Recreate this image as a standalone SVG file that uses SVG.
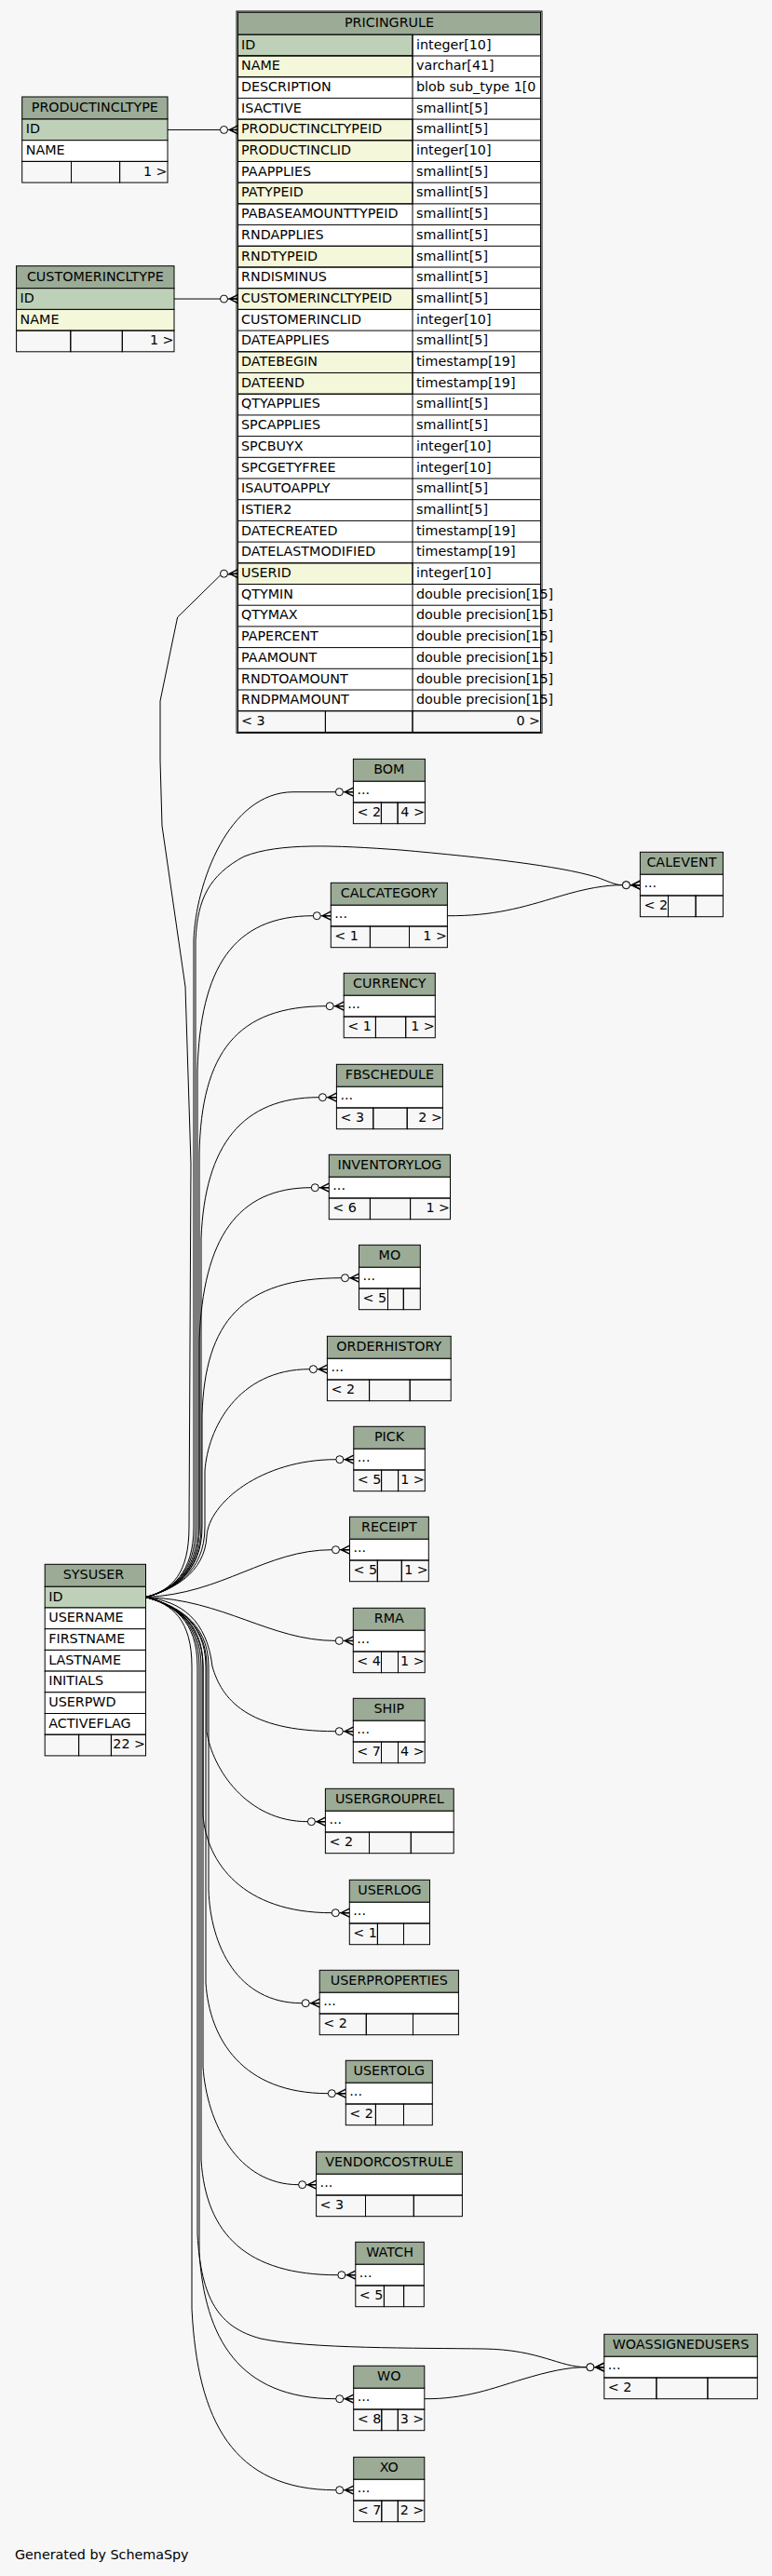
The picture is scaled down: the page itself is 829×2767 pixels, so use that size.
<svg xmlns="http://www.w3.org/2000/svg" width="829" height="2767" viewBox="0 0 829 2767">
<defs>
<style>
text{font-family:"DejaVu Sans","Liberation Sans",sans-serif;font-size:14.3px;fill:#000}
.c{text-anchor:middle}
.r{text-anchor:end}
rect{stroke:#000;stroke-width:1}
.bg{fill:#f7f7f7;stroke:none}
.h{fill:#9bab96}
.w{fill:#fff}
.n{fill:none}
.p{fill:#bed1b8}
.i{fill:#f4f7da}
.ln{fill:none;stroke:#000;stroke-width:1}
.e{fill:none;stroke:#000;stroke-width:1;marker-end:url(#crow)}
</style>
<marker id="crow" markerUnits="userSpaceOnUse" markerWidth="26" markerHeight="14" refX="21" refY="7" viewBox="0 0 26 14" orient="0" overflow="visible">
<circle cx="6" cy="7" r="4" fill="#f7f7f7" stroke="#000" stroke-width="1"/>
<path d="M21,2.5 L12,7 L21,11.5 M12,7 L21,7" fill="none" stroke="#000" stroke-width="1.5"/>
</marker>
</defs>
<rect class="bg" x="0" y="0" width="829" height="2767"/>

<g id="connectors">
<path class="e" d="M180,139.45 L255.5,139.45"/>
<path class="e" d="M187,321.05 L255.5,321.05"/>
<path class="e" d="M156.5,1715.6 C185,1708 203,1690 203,1640 L205,1250 L199,1060 L174,887 L172,817 L172,753 L190.6,663 L236.5,618 L255.5,616.2"/>
<path class="e" d="M156.5,1715.6 C185,1708 208,1690 208,1640 L208,1010 C210,950 245,850.7 315,850.7 L379.4,850.7"/>
<path class="e" d="M156.5,1715.6 C185,1708 210,1690 210,1640 L210,1010 C212,965 225,940 262,920 C300,905 360,908 430,913 C520,921 600,930 640,942 C652,946 660,950.7 668.4,950.7 L687.4,950.7"/>
<path class="e" d="M156.5,1715.6 C185,1708 212,1690 212,1640 L212,1150 C215,1040 250,983.7 336.3,983.7 L355.3,983.7"/>
<path class="e" d="M156.5,1715.6 C185,1708 214,1690 214,1640 L214,1240 C216,1130 255,1080.7 350.2,1080.7 L369.2,1080.7"/>
<path class="e" d="M156.5,1715.6 C185,1708 216,1690 216,1640 L216,1330 C220,1230 260,1178.7 342.4,1178.7 L361.4,1178.7"/>
<path class="e" d="M156.5,1715.6 C185,1708 214,1690 214,1640 L214,1440 C218,1330 255,1275.7 334.3,1275.7 L353.3,1275.7"/>
<path class="e" d="M156.5,1715.6 C185,1708 217,1690 217,1640 L217,1520 C220,1420 260,1372.7 366.5,1372.7 L385.5,1372.7"/>
<path class="e" d="M156.5,1715.6 C185,1708 220,1690 220,1640 L220,1580 C223,1535 255,1470.7 332.4,1470.7 L351.4,1470.7"/>
<path class="e" d="M156.5,1715.6 C185,1708 220,1690 222,1650 C224,1615 280,1567.7 360.8,1567.7 L379.8,1567.7"/>
<path class="e" d="M156.5,1715.6 C240,1712 285,1664.7 356.5,1664.7 L375.5,1664.7"/>
<path class="e" d="M156.5,1715.6 C240,1718 290,1762.4 360.3,1762.4 L379.3,1762.4"/>
<path class="e" d="M156.5,1715.6 C195,1720 222,1740 228,1790 C238,1825 265,1859.7 360.3,1859.7 L379.3,1859.7"/>
<path class="e" d="M156.5,1715.6 C185,1723 222,1740 222,1790 L222,1860 C228,1900 265,1956.7 330.4,1956.7 L349.4,1956.7"/>
<path class="e" d="M156.5,1715.6 C185,1723 218,1740 218,1790 L218,1950 C222,2000 260,2054.7 356.3,2054.7 L375.3,2054.7"/>
<path class="e" d="M156.5,1715.6 C185,1723 224,1740 224,1790 L224,2030 C226,2090 255,2151.7 324.2,2151.7 L343.2,2151.7"/>
<path class="e" d="M156.5,1715.6 C185,1723 221,1740 221,1790 L221,2130 C225,2190 260,2248.7 352.3,2248.7 L371.3,2248.7"/>
<path class="e" d="M156.5,1715.6 C185,1723 218,1740 218,1790 L218,2220 C222,2280 255,2346.7 320.6,2346.7 L339.6,2346.7"/>
<path class="e" d="M156.5,1715.6 C185,1723 216,1740 216,1790 L216,2320 C221,2400 265,2443.7 362.8,2443.7 L381.8,2443.7"/>
<path class="e" d="M156.5,1715.6 C185,1723 212,1740 212,1790 L212,2400 C216,2470 235,2500 280,2512 C330,2523 450,2522 520,2523 C580,2524 600,2542.7 629.8,2542.7 L648.8,2542.7"/>
<path class="e" d="M156.5,1715.6 C185,1723 214,1740 214,1790 L214,2420 C220,2510 255,2576.7 360.7,2576.7 L379.7,2576.7"/>
<path class="e" d="M156.5,1715.6 C185,1723 206,1740 206,1790 L206,2480 C212,2600 250,2674.7 360.7,2674.7 L379.7,2674.7"/>
<path class="e" d="M480.4,983.7 C530,984 560,975 600,963 C630,954 650,950.7 668.4,950.7 L687.4,950.7"/>
<path class="e" d="M455.8,2576.7 C500,2577 530,2565 560,2556 C590,2547 610,2542.7 629.8,2542.7 L648.8,2542.7"/>
</g>

<g id="PRICINGRULE">
<rect class="h" x="255.5" y="13.3" width="325" height="24"/>
<rect class="w" x="255.5" y="37.3" width="325" height="726.4"/>
<rect class="p" x="255.5" y="37.3" width="187.5" height="22.7"/>
<rect class="i" x="255.5" y="60" width="187.5" height="22.7"/>
<rect class="i" x="255.5" y="128.1" width="187.5" height="22.7"/>
<rect class="i" x="255.5" y="150.8" width="187.5" height="22.7"/>
<rect class="i" x="255.5" y="196.2" width="187.5" height="22.7"/>
<rect class="i" x="255.5" y="264.3" width="187.5" height="22.7"/>
<rect class="i" x="255.5" y="309.7" width="187.5" height="22.7"/>
<rect class="i" x="255.5" y="377.8" width="187.5" height="22.7"/>
<rect class="i" x="255.5" y="400.5" width="187.5" height="22.7"/>
<rect class="i" x="255.5" y="604.8" width="187.5" height="22.7"/>
<path class="ln" d="M255.5,60H580.5M255.5,82.7H580.5M255.5,105.4H580.5M255.5,128.1H580.5M255.5,150.8H580.5M255.5,173.5H580.5M255.5,196.2H580.5M255.5,218.9H580.5M255.5,241.6H580.5M255.5,264.3H580.5M255.5,287H580.5M255.5,309.7H580.5M255.5,332.4H580.5M255.5,355.1H580.5M255.5,377.8H580.5M255.5,400.5H580.5M255.5,423.2H580.5M255.5,445.9H580.5M255.5,468.6H580.5M255.5,491.3H580.5M255.5,514H580.5M255.5,536.7H580.5M255.5,559.4H580.5M255.5,582.1H580.5M255.5,604.8H580.5M255.5,627.5H580.5M255.5,650.2H580.5M255.5,672.9H580.5M255.5,695.6H580.5M255.5,718.3H580.5M255.5,741H580.5M443,37.3V763.7"/>
<rect class="n" x="255.5" y="763.7" width="93.9" height="22.7"/>
<rect class="n" x="349.4" y="763.7" width="93.6" height="22.7"/>
<rect class="n" x="443" y="763.7" width="137.5" height="22.7"/>
<rect class="n" x="254" y="12" width="328" height="775.4" stroke-width="2.4"/>
<text class="c" x="418" y="29.3">PRICINGRULE</text>
<text x="259" y="52.5">ID</text><text x="447" y="52.5">integer[10]</text>
<text x="259" y="75.2">NAME</text><text x="447" y="75.2">varchar[41]</text>
<text x="259" y="97.9">DESCRIPTION</text><text x="447" y="97.9">blob sub_type 1[0</text>
<text x="259" y="120.6">ISACTIVE</text><text x="447" y="120.6">smallint[5]</text>
<text x="259" y="143.3">PRODUCTINCLTYPEID</text><text x="447" y="143.3">smallint[5]</text>
<text x="259" y="166">PRODUCTINCLID</text><text x="447" y="166">integer[10]</text>
<text x="259" y="188.7">PAAPPLIES</text><text x="447" y="188.7">smallint[5]</text>
<text x="259" y="211.4">PATYPEID</text><text x="447" y="211.4">smallint[5]</text>
<text x="259" y="234.1">PABASEAMOUNTTYPEID</text><text x="447" y="234.1">smallint[5]</text>
<text x="259" y="256.8">RNDAPPLIES</text><text x="447" y="256.8">smallint[5]</text>
<text x="259" y="279.5">RNDTYPEID</text><text x="447" y="279.5">smallint[5]</text>
<text x="259" y="302.2">RNDISMINUS</text><text x="447" y="302.2">smallint[5]</text>
<text x="259" y="324.9">CUSTOMERINCLTYPEID</text><text x="447" y="324.9">smallint[5]</text>
<text x="259" y="347.6">CUSTOMERINCLID</text><text x="447" y="347.6">integer[10]</text>
<text x="259" y="370.3">DATEAPPLIES</text><text x="447" y="370.3">smallint[5]</text>
<text x="259" y="393">DATEBEGIN</text><text x="447" y="393">timestamp[19]</text>
<text x="259" y="415.7">DATEEND</text><text x="447" y="415.7">timestamp[19]</text>
<text x="259" y="438.4">QTYAPPLIES</text><text x="447" y="438.4">smallint[5]</text>
<text x="259" y="461.1">SPCAPPLIES</text><text x="447" y="461.1">smallint[5]</text>
<text x="259" y="483.8">SPCBUYX</text><text x="447" y="483.8">integer[10]</text>
<text x="259" y="506.5">SPCGETYFREE</text><text x="447" y="506.5">integer[10]</text>
<text x="259" y="529.2">ISAUTOAPPLY</text><text x="447" y="529.2">smallint[5]</text>
<text x="259" y="551.9">ISTIER2</text><text x="447" y="551.9">smallint[5]</text>
<text x="259" y="574.6">DATECREATED</text><text x="447" y="574.6">timestamp[19]</text>
<text x="259" y="597.3">DATELASTMODIFIED</text><text x="447" y="597.3">timestamp[19]</text>
<text x="259" y="620">USERID</text><text x="447" y="620">integer[10]</text>
<text x="259" y="642.7">QTYMIN</text><text x="447" y="642.7">double precision[15]</text>
<text x="259" y="665.4">QTYMAX</text><text x="447" y="665.4">double precision[15]</text>
<text x="259" y="688.1">PAPERCENT</text><text x="447" y="688.1">double precision[15]</text>
<text x="259" y="710.8">PAAMOUNT</text><text x="447" y="710.8">double precision[15]</text>
<text x="259" y="733.5">RNDTOAMOUNT</text><text x="447" y="733.5">double precision[15]</text>
<text x="259" y="756.2">RNDPMAMOUNT</text><text x="447" y="756.2">double precision[15]</text>
<text x="259" y="778.9">&lt; 3</text><text class="r" x="580" y="778.9">0 &gt;</text>
</g>

<g id="PRODUCTINCLTYPE">
<rect class="h" x="23.7" y="104" width="156.3" height="24"/>
<rect class="p" x="23.7" y="128" width="156.3" height="22.7"/>
<rect class="w" x="23.7" y="150.7" width="156.3" height="22.7"/>
<rect class="n" x="23.7" y="173.4" width="52.8" height="22.7"/>
<rect class="n" x="76.5" y="173.4" width="52.1" height="22.7"/>
<rect class="n" x="128.6" y="173.4" width="51.4" height="22.7"/>
<text class="c" x="101.8" y="119.8">PRODUCTINCLTYPE</text>
<text x="27.7" y="143.2">ID</text>
<text x="27.7" y="165.9">NAME</text>
<text class="r" x="179.5" y="188.6">1 &gt;</text>
</g>

<g id="CUSTOMERINCLTYPE">
<rect class="h" x="17.6" y="285.7" width="169.4" height="24"/>
<rect class="p" x="17.6" y="309.7" width="169.4" height="22.7"/>
<rect class="i" x="17.6" y="332.4" width="169.4" height="22.7"/>
<rect class="n" x="17.6" y="355.1" width="58.2" height="22.7"/>
<rect class="n" x="75.8" y="355.1" width="55.5" height="22.7"/>
<rect class="n" x="131.3" y="355.1" width="55.7" height="22.7"/>
<text class="c" x="102.3" y="301.5">CUSTOMERINCLTYPE</text>
<text x="21.6" y="324.9">ID</text>
<text x="21.6" y="347.6">NAME</text>
<text class="r" x="186.5" y="370.3">1 &gt;</text>
</g>

<g id="SYSUSER">
<rect class="h" x="48.2" y="1680.3" width="108.3" height="24"/>
<rect class="p" x="48.2" y="1704.3" width="108.3" height="22.7"/>
<rect class="w" x="48.2" y="1727" width="108.3" height="22.7"/>
<rect class="w" x="48.2" y="1749.7" width="108.3" height="22.7"/>
<rect class="w" x="48.2" y="1772.4" width="108.3" height="22.7"/>
<rect class="w" x="48.2" y="1795.1" width="108.3" height="22.7"/>
<rect class="w" x="48.2" y="1817.8" width="108.3" height="22.7"/>
<rect class="w" x="48.2" y="1840.5" width="108.3" height="22.7"/>
<rect class="n" x="48.2" y="1863.2" width="36.4" height="22.7"/>
<rect class="n" x="84.6" y="1863.2" width="34.8" height="22.7"/>
<rect class="n" x="119.4" y="1863.2" width="37.1" height="22.7"/>
<text class="c" x="100.5" y="1696.1">SYSUSER</text>
<text x="52.2" y="1719.5">ID</text>
<text x="52.2" y="1742.2">USERNAME</text>
<text x="52.2" y="1764.9">FIRSTNAME</text>
<text x="52.2" y="1787.6">LASTNAME</text>
<text x="52.2" y="1810.3">INITIALS</text>
<text x="52.2" y="1833">USERPWD</text>
<text x="52.2" y="1855.7">ACTIVEFLAG</text>
<text class="r" x="156" y="1878.4">22 &gt;</text>
</g>

<g id="BOM">
<rect class="h" x="379.4" y="815.3" width="77" height="24"/>
<rect class="w" x="379.4" y="839.3" width="77" height="22.7"/>
<rect class="n" x="379.4" y="862" width="30" height="22.7"/>
<rect class="n" x="409.4" y="862" width="17.7" height="22.7"/>
<rect class="n" x="427.1" y="862" width="29.3" height="22.7"/>
<text class="c" x="417.9" y="831.1">BOM</text>
<text x="383.4" y="853.3">...</text>
<text x="383.4" y="877.3">&lt; 2</text>
<text class="r" x="455.9" y="877.3">4 &gt;</text>
</g>

<g id="CALEVENT">
<rect class="h" x="687.4" y="915.3" width="89" height="24"/>
<rect class="w" x="687.4" y="939.3" width="89" height="22.7"/>
<rect class="n" x="687.4" y="962" width="30.1" height="22.7"/>
<rect class="n" x="717.5" y="962" width="29.6" height="22.7"/>
<rect class="n" x="747.1" y="962" width="29.3" height="22.7"/>
<text class="c" x="731.9" y="931.1">CALEVENT</text>
<text x="691.4" y="953.3">...</text>
<text x="691.4" y="977.3">&lt; 2</text>
</g>

<g id="CALCATEGORY">
<rect class="h" x="355.3" y="948.3" width="125.1" height="24"/>
<rect class="w" x="355.3" y="972.3" width="125.1" height="22.7"/>
<rect class="n" x="355.3" y="995" width="42.1" height="22.7"/>
<rect class="n" x="397.4" y="995" width="42.1" height="22.7"/>
<rect class="n" x="439.5" y="995" width="40.9" height="22.7"/>
<text class="c" x="417.9" y="964.1">CALCATEGORY</text>
<text x="359.3" y="986.3">...</text>
<text x="359.3" y="1010.3">&lt; 1</text>
<text class="r" x="479.9" y="1010.3">1 &gt;</text>
</g>

<g id="CURRENCY">
<rect class="h" x="369.2" y="1045.3" width="98.1" height="24"/>
<rect class="w" x="369.2" y="1069.3" width="98.1" height="22.7"/>
<rect class="n" x="369.2" y="1092" width="34.2" height="22.7"/>
<rect class="n" x="403.4" y="1092" width="32.3" height="22.7"/>
<rect class="n" x="435.7" y="1092" width="31.6" height="22.7"/>
<text class="c" x="418.3" y="1061.1">CURRENCY</text>
<text x="373.2" y="1083.3">...</text>
<text x="373.2" y="1107.3">&lt; 1</text>
<text class="r" x="466.8" y="1107.3">1 &gt;</text>
</g>

<g id="FBSCHEDULE">
<rect class="h" x="361.4" y="1143.3" width="114" height="24"/>
<rect class="w" x="361.4" y="1167.3" width="114" height="22.7"/>
<rect class="n" x="361.4" y="1190" width="39.4" height="22.7"/>
<rect class="n" x="400.8" y="1190" width="36.4" height="22.7"/>
<rect class="n" x="437.2" y="1190" width="38.2" height="22.7"/>
<text class="c" x="418.4" y="1159.1">FBSCHEDULE</text>
<text x="365.4" y="1181.3">...</text>
<text x="365.4" y="1205.3">&lt; 3</text>
<text class="r" x="474.9" y="1205.3">2 &gt;</text>
</g>

<g id="INVENTORYLOG">
<rect class="h" x="353.3" y="1240.3" width="130.2" height="24"/>
<rect class="w" x="353.3" y="1264.3" width="130.2" height="22.7"/>
<rect class="n" x="353.3" y="1287" width="44.1" height="22.7"/>
<rect class="n" x="397.4" y="1287" width="43.2" height="22.7"/>
<rect class="n" x="440.6" y="1287" width="42.9" height="22.7"/>
<text class="c" x="418.4" y="1256.1">INVENTORYLOG</text>
<text x="357.3" y="1278.3">...</text>
<text x="357.3" y="1302.3">&lt; 6</text>
<text class="r" x="483" y="1302.3">1 &gt;</text>
</g>

<g id="MO">
<rect class="h" x="385.5" y="1337.3" width="65.8" height="24"/>
<rect class="w" x="385.5" y="1361.3" width="65.8" height="22.7"/>
<rect class="n" x="385.5" y="1384" width="31" height="22.7"/>
<rect class="n" x="416.5" y="1384" width="16.8" height="22.7"/>
<rect class="n" x="433.3" y="1384" width="18" height="22.7"/>
<text class="c" x="418.4" y="1353.1">MO</text>
<text x="389.5" y="1375.3">...</text>
<text x="389.5" y="1399.3">&lt; 5</text>
</g>

<g id="ORDERHISTORY">
<rect class="h" x="351.4" y="1435.3" width="132.8" height="24"/>
<rect class="w" x="351.4" y="1459.3" width="132.8" height="22.7"/>
<rect class="n" x="351.4" y="1482" width="45.2" height="22.7"/>
<rect class="n" x="396.6" y="1482" width="43.6" height="22.7"/>
<rect class="n" x="440.2" y="1482" width="44" height="22.7"/>
<text class="c" x="417.8" y="1451.1">ORDERHISTORY</text>
<text x="355.4" y="1473.3">...</text>
<text x="355.4" y="1497.3">&lt; 2</text>
</g>

<g id="PICK">
<rect class="h" x="379.8" y="1532.3" width="76.5" height="24"/>
<rect class="w" x="379.8" y="1556.3" width="76.5" height="22.7"/>
<rect class="n" x="379.8" y="1579" width="29.8" height="22.7"/>
<rect class="n" x="409.6" y="1579" width="18" height="22.7"/>
<rect class="n" x="427.6" y="1579" width="28.7" height="22.7"/>
<text class="c" x="418" y="1548.1">PICK</text>
<text x="383.8" y="1570.3">...</text>
<text x="383.8" y="1594.3">&lt; 5</text>
<text class="r" x="455.8" y="1594.3">1 &gt;</text>
</g>

<g id="RECEIPT">
<rect class="h" x="375.5" y="1629.3" width="84.8" height="24"/>
<rect class="w" x="375.5" y="1653.3" width="84.8" height="22.7"/>
<rect class="n" x="375.5" y="1676" width="29.8" height="22.7"/>
<rect class="n" x="405.3" y="1676" width="26" height="22.7"/>
<rect class="n" x="431.3" y="1676" width="29" height="22.7"/>
<text class="c" x="417.9" y="1645.1">RECEIPT</text>
<text x="379.5" y="1667.3">...</text>
<text x="379.5" y="1691.3">&lt; 5</text>
<text class="r" x="459.8" y="1691.3">1 &gt;</text>
</g>

<g id="RMA">
<rect class="h" x="379.3" y="1727.3" width="76.9" height="24"/>
<rect class="w" x="379.3" y="1751.3" width="76.9" height="22.7"/>
<rect class="n" x="379.3" y="1774" width="30.2" height="22.7"/>
<rect class="n" x="409.5" y="1774" width="18" height="22.7"/>
<rect class="n" x="427.5" y="1774" width="28.7" height="22.7"/>
<text class="c" x="417.8" y="1743.1">RMA</text>
<text x="383.3" y="1765.3">...</text>
<text x="383.3" y="1789.3">&lt; 4</text>
<text class="r" x="455.7" y="1789.3">1 &gt;</text>
</g>

<g id="SHIP">
<rect class="h" x="379.3" y="1824.3" width="76.9" height="24"/>
<rect class="w" x="379.3" y="1848.3" width="76.9" height="22.7"/>
<rect class="n" x="379.3" y="1871" width="30.2" height="22.7"/>
<rect class="n" x="409.5" y="1871" width="18" height="22.7"/>
<rect class="n" x="427.5" y="1871" width="28.7" height="22.7"/>
<text class="c" x="417.8" y="1840.1">SHIP</text>
<text x="383.3" y="1862.3">...</text>
<text x="383.3" y="1886.3">&lt; 7</text>
<text class="r" x="455.7" y="1886.3">4 &gt;</text>
</g>

<g id="USERGROUPREL">
<rect class="h" x="349.4" y="1921.3" width="137.8" height="24"/>
<rect class="w" x="349.4" y="1945.3" width="137.8" height="22.7"/>
<rect class="n" x="349.4" y="1968" width="47.1" height="22.7"/>
<rect class="n" x="396.5" y="1968" width="44.8" height="22.7"/>
<rect class="n" x="441.3" y="1968" width="45.9" height="22.7"/>
<text class="c" x="418.3" y="1937.1">USERGROUPREL</text>
<text x="353.4" y="1959.3">...</text>
<text x="353.4" y="1983.3">&lt; 2</text>
</g>

<g id="USERLOG">
<rect class="h" x="375.3" y="2019.3" width="86.2" height="24"/>
<rect class="w" x="375.3" y="2043.3" width="86.2" height="22.7"/>
<rect class="n" x="375.3" y="2066" width="30.1" height="22.7"/>
<rect class="n" x="405.4" y="2066" width="28.1" height="22.7"/>
<rect class="n" x="433.5" y="2066" width="28" height="22.7"/>
<text class="c" x="418.4" y="2035.1">USERLOG</text>
<text x="379.3" y="2057.3">...</text>
<text x="379.3" y="2081.3">&lt; 1</text>
</g>

<g id="USERPROPERTIES">
<rect class="h" x="343.2" y="2116.3" width="149.2" height="24"/>
<rect class="w" x="343.2" y="2140.3" width="149.2" height="22.7"/>
<rect class="n" x="343.2" y="2163" width="50.1" height="22.7"/>
<rect class="n" x="393.3" y="2163" width="50.2" height="22.7"/>
<rect class="n" x="443.5" y="2163" width="48.9" height="22.7"/>
<text class="c" x="417.8" y="2132.1">USERPROPERTIES</text>
<text x="347.2" y="2154.3">...</text>
<text x="347.2" y="2178.3">&lt; 2</text>
</g>

<g id="USERTOLG">
<rect class="h" x="371.3" y="2213.3" width="93" height="24"/>
<rect class="w" x="371.3" y="2237.3" width="93" height="22.7"/>
<rect class="n" x="371.3" y="2260" width="32.1" height="22.7"/>
<rect class="n" x="403.4" y="2260" width="30.1" height="22.7"/>
<rect class="n" x="433.5" y="2260" width="30.8" height="22.7"/>
<text class="c" x="417.8" y="2229.1">USERTOLG</text>
<text x="375.3" y="2251.3">...</text>
<text x="375.3" y="2275.3">&lt; 2</text>
</g>

<g id="VENDORCOSTRULE">
<rect class="h" x="339.6" y="2311.3" width="156.8" height="24"/>
<rect class="w" x="339.6" y="2335.3" width="156.8" height="22.7"/>
<rect class="n" x="339.6" y="2358" width="52.9" height="22.7"/>
<rect class="n" x="392.5" y="2358" width="51.8" height="22.7"/>
<rect class="n" x="444.3" y="2358" width="52.1" height="22.7"/>
<text class="c" x="418" y="2327.1">VENDORCOSTRULE</text>
<text x="343.6" y="2349.3">...</text>
<text x="343.6" y="2373.3">&lt; 3</text>
</g>

<g id="WATCH">
<rect class="h" x="381.8" y="2408.3" width="73.5" height="24"/>
<rect class="w" x="381.8" y="2432.3" width="73.5" height="22.7"/>
<rect class="n" x="381.8" y="2455" width="30.6" height="22.7"/>
<rect class="n" x="412.4" y="2455" width="21.2" height="22.7"/>
<rect class="n" x="433.6" y="2455" width="21.7" height="22.7"/>
<text class="c" x="418.6" y="2424.1">WATCH</text>
<text x="385.8" y="2446.3">...</text>
<text x="385.8" y="2470.3">&lt; 5</text>
</g>

<g id="WOASSIGNEDUSERS">
<rect class="h" x="648.8" y="2507.3" width="164.5" height="24"/>
<rect class="w" x="648.8" y="2531.3" width="164.5" height="22.7"/>
<rect class="n" x="648.8" y="2554" width="56.1" height="22.7"/>
<rect class="n" x="704.9" y="2554" width="55" height="22.7"/>
<rect class="n" x="759.9" y="2554" width="53.4" height="22.7"/>
<text class="c" x="731" y="2523.1">WOASSIGNEDUSERS</text>
<text x="652.8" y="2545.3">...</text>
<text x="652.8" y="2569.3">&lt; 2</text>
</g>

<g id="WO">
<rect class="h" x="379.7" y="2541.3" width="76.1" height="24"/>
<rect class="w" x="379.7" y="2565.3" width="76.1" height="22.7"/>
<rect class="n" x="379.7" y="2588" width="30.1" height="22.7"/>
<rect class="n" x="409.8" y="2588" width="17.5" height="22.7"/>
<rect class="n" x="427.3" y="2588" width="28.5" height="22.7"/>
<text class="c" x="417.8" y="2557.1">WO</text>
<text x="383.7" y="2579.3">...</text>
<text x="383.7" y="2603.3">&lt; 8</text>
<text class="r" x="455.3" y="2603.3">3 &gt;</text>
</g>

<g id="XO">
<rect class="h" x="379.7" y="2639.3" width="76.1" height="24"/>
<rect class="w" x="379.7" y="2663.3" width="76.1" height="22.7"/>
<rect class="n" x="379.7" y="2686" width="30.1" height="22.7"/>
<rect class="n" x="409.8" y="2686" width="17.5" height="22.7"/>
<rect class="n" x="427.3" y="2686" width="28.5" height="22.7"/>
<text class="c" x="417.8" y="2655.1">XO</text>
<text x="383.7" y="2677.3">...</text>
<text x="383.7" y="2701.3">&lt; 7</text>
<text class="r" x="455.3" y="2701.3">2 &gt;</text>
</g>

<text x="16" y="2749.3">Generated by SchemaSpy</text>
</svg>
